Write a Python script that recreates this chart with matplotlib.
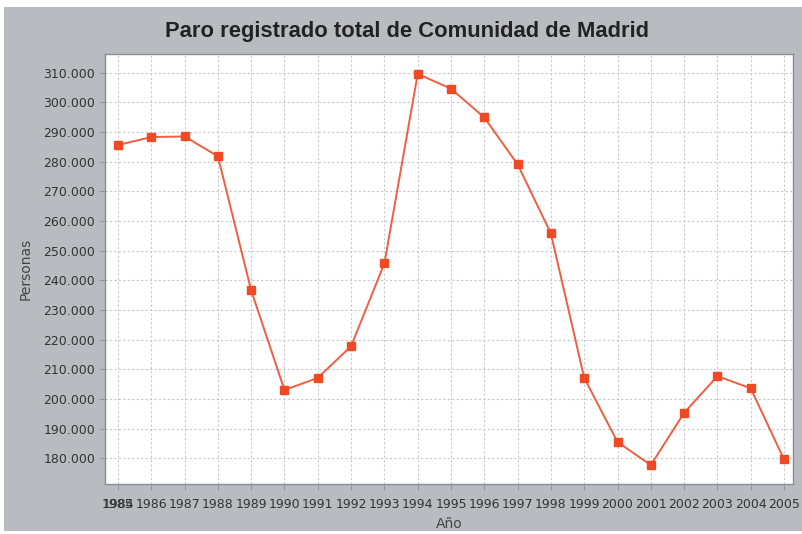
import matplotlib
matplotlib.use('Agg')
import matplotlib.pyplot as plt
from matplotlib.patches import Rectangle
from matplotlib.ticker import FuncFormatter

# Paro registrado, Comunidad de Madrid
years = ['1985', '1986', '1987', '1988', '1989', '1990', '1991', '1992', '1993',
         '1994', '1995', '1996', '1997', '1998', '1999', '2000', '2001', '2002',
         '2003', '2004', '2005']
paro = [285600, 288300, 288500, 281800, 236600, 203000, 207100, 217800, 245700,
        309600, 304600, 294900, 279100, 255800, 207100, 185500, 177700, 195300,
        207700, 203600, 179600]
y_ticks = list(range(180000, 310001, 10000))

BG = '#b8bcc0'
LINE = '#f05e40'
MARK = '#f04a24'
TXT = '#333333'

fig = plt.figure(figsize=(8.02, 5.34), dpi=100, facecolor='white')
fig.patches.append(Rectangle((4 / 802, 3 / 534), 1, 524 / 534,
                             transform=fig.transFigure, facecolor=BG,
                             edgecolor='none', zorder=-10))

ax = fig.add_axes([105 / 802, 1 - 484.3 / 534, 688 / 802, 430 / 534])
ax.set_facecolor('white')

x = list(range(len(years)))
ax.plot(x, paro, color=LINE, lw=1.4, marker='s', ms=5.6,
        mfc=MARK, mec=MARK, zorder=3)

ax.set_xlim(-0.39, len(years) - 1 + 0.27)
ax.set_ylim(171230, 316200)
ax.set_xticks(x)
ax.set_xticklabels(years)
# the original shows an overlapping "1984" at the first position
ax.xaxis.remove_overlapping_locs = False
ax.set_xticks([0], labels=['1984'], minor=True)
ax.tick_params(axis='x', which='minor', length=0, pad=10,
               labelsize=9, labelcolor=TXT)
ax.set_yticks(y_ticks)
ax.yaxis.set_major_formatter(FuncFormatter(lambda v, p: f'{int(v):,}'.replace(',', '.')))

ax.tick_params(axis='both', which='major', direction='out', length=4, width=0.8,
               color='#999999', labelsize=9, labelcolor=TXT, pad=3)
ax.tick_params(axis='x', which='major', pad=6)

ax.grid(True, which='major', color='#c8c8c8', linestyle=(0, (2, 2)), lw=0.8)
ax.set_axisbelow(True)
for s in ax.spines.values():
    s.set_color('#8a8e92')
    s.set_linewidth(1.0)

ax.set_xlabel('Año', fontsize=10, color='#444444', labelpad=4)
ax.set_ylabel('Personas', fontsize=10, color='#444444', labelpad=8)

fig.text(0.5075, 1 - 32 / 534, 'Paro registrado total de Comunidad de Madrid',
         ha='center', va='center', fontsize=15.8, fontweight='bold', color='#222222',
         family=['Liberation Sans', 'DejaVu Sans'])

fig.savefig('out.png', dpi=100, facecolor='white')
